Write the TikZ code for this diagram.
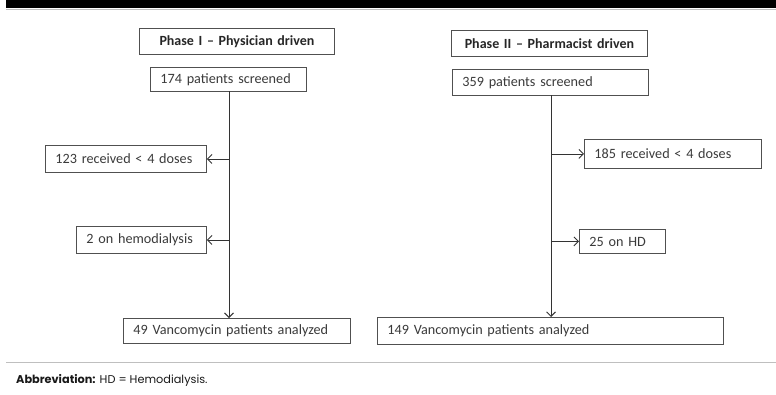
\documentclass[tikz,border=0pt]{standalone}
\usepackage{fontspec}
\setmainfont{Carlito}
\newfontfamily\capfont{Poppins}
\usetikzlibrary{arrows.meta}
\definecolor{boxline}{HTML}{505050}
\definecolor{txt}{HTML}{3A3A3A}
\tikzset{
  fbox/.style={draw=boxline, line width=0.9pt, inner xsep=10pt, inner ysep=0pt, font=\fontsize{14.2}{16}\selectfont, text=txt, anchor=north west, align=left},
  hbox/.style={fbox, align=center, font=\bfseries\fontsize{14}{16}\selectfont, text=black!85},
  conn/.style={draw=black!80, line width=0.9pt},
  arr/.style={conn, -{Straight Barb[length=4.5pt,width=9pt,line width=0.9pt]}}
}
\begin{document}
\begin{tikzpicture}[x=1pt,y=-1pt]
\useasboundingbox (0,0) rectangle (776,394);
% header bar
\fill[black] (6,0) rectangle (776,8);
\draw[black!25, line width=1pt] (6,9) -- (776,9);
% separator
\draw[black!25, line width=1pt] (6,362) -- (776,362);
% Phase I
\node[hbox, text width=175pt, minimum height=26pt] (p1) at (139,28) {Phase I – Physician driven};
\node[fbox, text width=136pt, minimum height=24pt] (s1) at (150,67) {174 patients screened};
\node[fbox, text width=141pt, minimum height=27pt] (r1) at (45,145) {123 received < 4 doses};
\node[fbox, text width=110pt, minimum height=27pt] (h1) at (76,226) {2 on hemodialysis};
\node[fbox, text width=207pt, minimum height=25pt] (a1) at (123,318) {49 Vancomycin patients analyzed};
\coordinate (t1) at (229,91);
\draw[arr] (t1) -- (t1 |- a1.north);
\draw[arr] (t1 |- r1.east) -- (r1.east);
\draw[arr] (t1 |- h1.east) -- (h1.east);
% Phase II
\node[hbox, text width=176pt, minimum height=26pt] (p2) at (451,30) {Phase II – Pharmacist driven};
\node[fbox, text width=176pt, minimum height=26pt] (s2) at (452,69) {359 patients screened};
\node[fbox, text width=157pt, minimum height=29pt] (r2) at (584,139) {185 received < 4 doses};
\node[fbox, text width=66pt, minimum height=24pt] (h2) at (579,229) {25 on HD};
\node[fbox, text width=326pt, minimum height=27pt] (a2) at (377,317) {149 Vancomycin patients analyzed};
\coordinate (t2) at (551,95);
\draw[arr] (t2) -- (t2 |- a2.north);
\draw[arr] (t2 |- r2.west) -- (r2.west);
\draw[arr] (t2 |- h2.west) -- (h2.west);
% abbreviation
\node[anchor=base west, inner sep=0pt, font=\capfont\fontsize{11.3}{13}\selectfont, text=black!90] (ab) at (16,383) {\textbf{Abbreviation:} HD = Hemodialysis.};
\end{tikzpicture}
\end{document}
